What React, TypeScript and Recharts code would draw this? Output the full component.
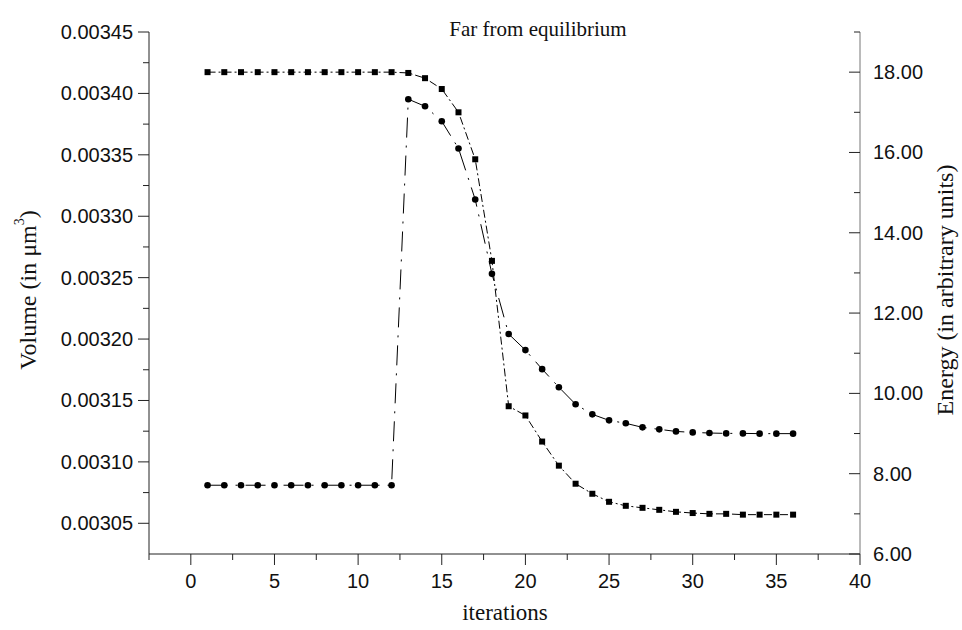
import React from 'react';
import { LineChart, Line, XAxis, YAxis } from 'recharts';

const iterations = [1, 2, 3, 4, 5, 6, 7, 8, 9, 10, 11, 12, 13, 14, 15, 16, 17, 18, 19, 20, 21, 22, 23, 24, 25, 26, 27, 28, 29, 30, 31, 32, 33, 34, 35, 36];

// squares, right axis (energy)
const energy = [18.0, 18.0, 18.0, 18.0, 18.0, 18.0, 18.0, 18.0, 18.0, 18.0, 18.0, 18.0, 17.98, 17.85, 17.58, 17.0, 15.83, 13.3, 9.68, 9.45, 8.8, 8.2, 7.75, 7.5, 7.3, 7.2, 7.15, 7.1, 7.05, 7.02, 7.0, 7.0, 6.98, 6.98, 6.98, 6.98];

// circles, left axis (volume)
const volume = [0.003081, 0.003081, 0.003081, 0.003081, 0.003081, 0.003081, 0.003081, 0.003081, 0.003081, 0.003081, 0.003081, 0.003081, 0.0033953, 0.0033895, 0.0033773, 0.0033552, 0.0033136, 0.0032531, 0.0032041, 0.003191, 0.0031755, 0.0031608, 0.0031469, 0.0031387, 0.0031338, 0.0031314, 0.0031281, 0.0031265, 0.0031248, 0.003124, 0.0031235, 0.0031232, 0.0031232, 0.003123, 0.003123, 0.003123];

const xTicks = [-2.5, 0, 2.5, 5, 7.5, 10, 12.5, 15, 17.5, 20, 22.5, 25, 27.5, 30, 32.5, 35, 37.5, 40];
const volumeTicks = [0.00305, 0.003075, 0.0031, 0.003125, 0.00315, 0.003175, 0.0032, 0.003225, 0.00325, 0.003275, 0.0033, 0.003325, 0.00335, 0.003375, 0.0034, 0.003425, 0.00345];
const energyTicks = [6, 7, 8, 9, 10, 11, 12, 13, 14, 15, 16, 17, 18, 19];

const data = iterations.map((it, i) => ({ it, energy: energy[i], volume: volume[i] }));

const SANS = '"Liberation Sans", Arial, sans-serif';
const SERIF = '"Liberation Serif", "Times New Roman", serif';

const LeftTick = (props: any) => {
  const { x, y, payload } = props;
  const v = payload.value;
  const k = v * 20000;
  const major = Math.abs(k - Math.round(k)) < 1e-6;
  return (
    <g>
      <line x1={x - (major ? 11 : 6)} y1={y} x2={x} y2={y} stroke="#222" strokeWidth={1} />
      {major && (
        <text x={x - 16} y={y} textAnchor="end" dominantBaseline="central" fontSize={20} fontFamily={SANS} fill="#111">
          {v.toFixed(5)}
        </text>
      )}
    </g>
  );
};

const RightTick = (props: any) => {
  const { x, y, payload } = props;
  const v = payload.value;
  const major = v % 2 === 0;
  return (
    <g>
      <line x1={x - (major ? 11 : 6)} y1={y} x2={x} y2={y} stroke="#222" strokeWidth={1} />
      {major && (
        <text x={x + 13} y={y} textAnchor="start" dominantBaseline="central" fontSize={20} fontFamily={SANS} fill="#111">
          {v.toFixed(2)}
        </text>
      )}
    </g>
  );
};

const BottomTick = (props: any) => {
  const { x, y, payload } = props;
  const v = payload.value;
  const major = v % 5 === 0;
  return (
    <g>
      <line x1={x} y1={y} x2={x} y2={y + (major ? 11 : 6)} stroke="#222" strokeWidth={1} />
      {major && (
        <text x={x} y={y + 27} textAnchor="middle" dominantBaseline="central" fontSize={20} fontFamily={SANS} fill="#111">
          {String(v)}
        </text>
      )}
    </g>
  );
};

const SquareDot = (props: any) => {
  const { cx, cy } = props;
  if (cx == null || cy == null) return null;
  return <rect x={cx - 3} y={cy - 3} width={6} height={6} fill="#000" />;
};

const CircleDot = (props: any) => {
  const { cx, cy } = props;
  if (cx == null || cy == null) return null;
  return <circle cx={cx} cy={cy} r={3.3} fill="#000" />;
};

export default function App() {
  return (
    <div style={{ position: 'absolute', left: 0, top: 0, width: 962, height: 630, background: '#fff' }}>
      <LineChart width={962} height={630} data={data} margin={{ top: 32, right: 0, bottom: 0, left: 0 }}>
        <XAxis
          dataKey="it"
          type="number"
          domain={[-2.5, 40]}
          ticks={xTicks}
          interval={0}
          height={76}
          tickSize={0}
          tickMargin={0}
          tickLine={false}
          tick={<BottomTick />}
          stroke="#222"
          allowDataOverflow
        />
        <YAxis
          yAxisId="left"
          orientation="left"
          type="number"
          domain={[0.003025, 0.00345]}
          ticks={volumeTicks}
          interval={0}
          width={149}
          tickSize={0}
          tickMargin={0}
          tickLine={false}
          tick={<LeftTick />}
          stroke="#222"
          allowDataOverflow
        />
        <YAxis
          yAxisId="right"
          orientation="right"
          type="number"
          domain={[6, 19]}
          ticks={energyTicks}
          interval={0}
          width={102}
          tickSize={0}
          tickMargin={0}
          tickLine={false}
          tick={<RightTick />}
          stroke="#777"
          allowDataOverflow
        />
        <Line
          yAxisId="right"
          dataKey="energy"
          stroke="#000"
          strokeWidth={1}
          strokeDasharray="8 3 2 3"
          dot={<SquareDot />}
          activeDot={false}
          isAnimationActive={false}
          type="linear"
        />
        <Line
          yAxisId="left"
          dataKey="volume"
          stroke="#000"
          strokeWidth={1}
          strokeDasharray="20 8 2 8"
          dot={<CircleDot />}
          activeDot={false}
          isAnimationActive={false}
          type="linear"
        />
      </LineChart>
      <svg width={962} height={630} style={{ position: 'absolute', left: 0, top: 0, pointerEvents: 'none' }}>
        <text x={538} y={29} textAnchor="middle" dominantBaseline="central" fontSize={21} fontFamily={SERIF} fill="#111">
          Far from equilibrium
        </text>
        <text x={505} y={612} textAnchor="middle" dominantBaseline="central" fontSize={23} fontFamily={SERIF} fill="#111">
          iterations
        </text>
        <text
          transform="translate(28, 290) rotate(-90)"
          textAnchor="middle"
          dominantBaseline="central"
          fontSize={24}
          fontFamily={SERIF}
          fill="#111"
        >
          Volume (in μm<tspan dy={-9} fontSize={14}>3</tspan><tspan dy={9}>)</tspan>
        </text>
        <text
          transform="translate(945, 290) rotate(-90)"
          textAnchor="middle"
          dominantBaseline="central"
          fontSize={24}
          fontFamily={SERIF}
          fill="#111"
        >
          Energy (in arbitrary units)
        </text>
      </svg>
    </div>
  );
}
